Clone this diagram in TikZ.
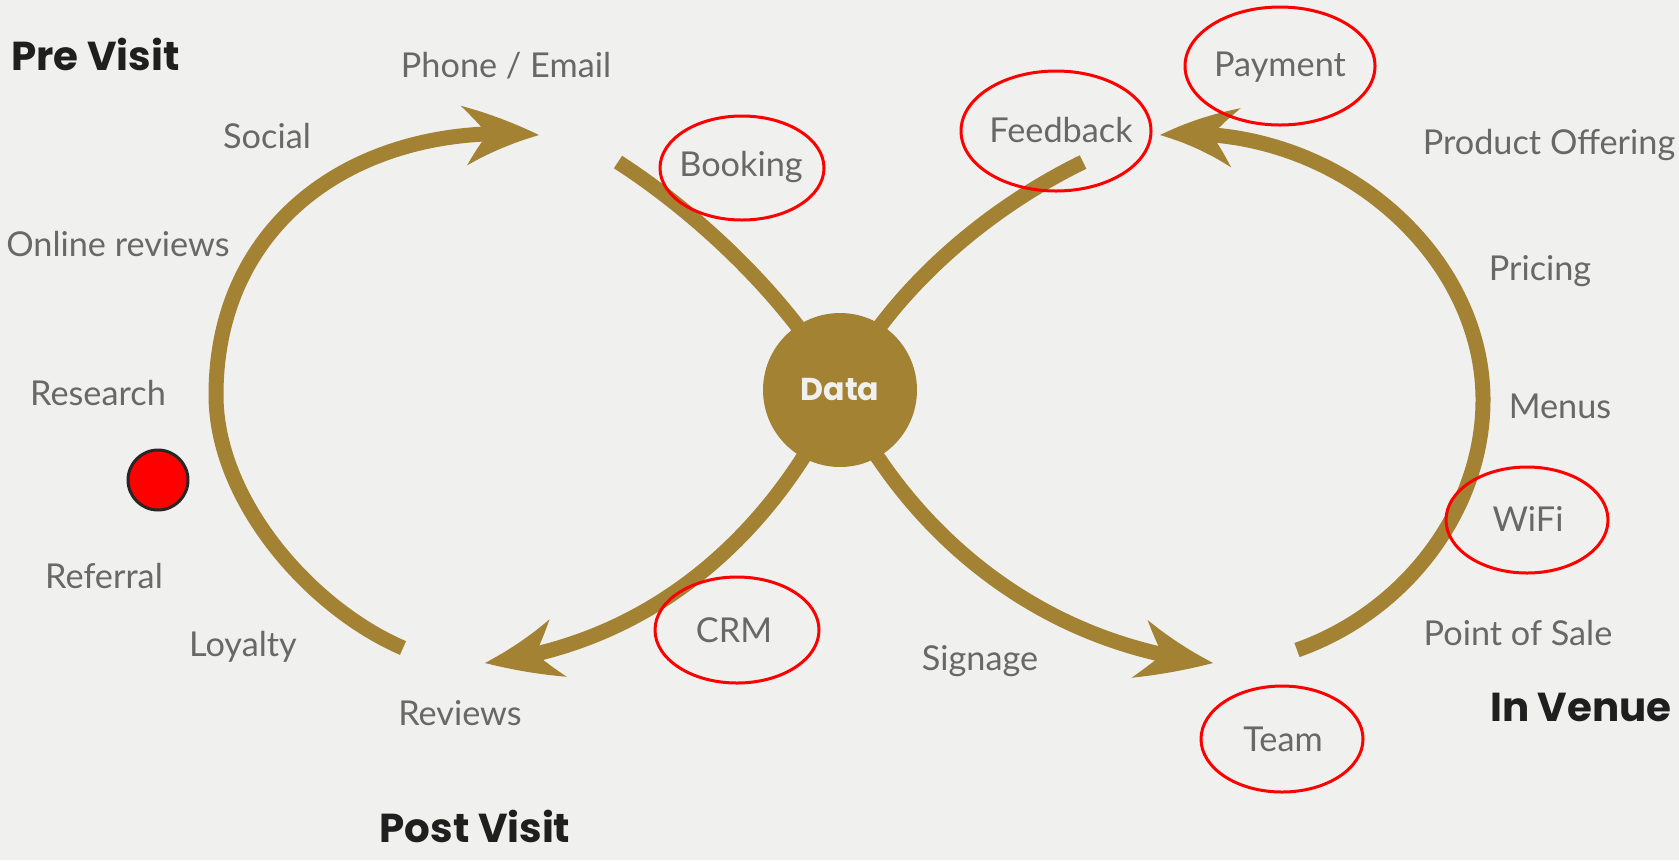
\documentclass[tikz,border=0pt]{standalone}
\usepackage{fontspec}
\setmainfont{Lato}
\newfontfamily\headfont{Poppins}
\usetikzlibrary{arrows.meta}
\usetikzlibrary{bending}
\usetikzlibrary{shapes}
\definecolor{highlight}{RGB}{163,130,51}
\definecolor{backdrop}{HTML}{F0F0EE}
\definecolor{textgray}{HTML}{686868}
\tikzset{
  flow/.style={line width=0.3cm, highlight},
  flowtip/.style={flow, -{Stealth[length=1.55cm, width=1.2cm, inset=0.5cm, line width=0pt, bend]}},
  tag/.style={text=textgray, inner sep=0pt, font=\fontsize{19.5}{23}\selectfont},
  heading/.style={text=black!88, inner sep=0pt, font=\headfont\bfseries\fontsize{23}{27}\selectfont},
  ring/.style={draw=red, line width=0.06cm},
}

\begin{document}
\begin{tikzpicture}[x=0.02cm, y=-0.02cm]
            \useasboundingbox (0,0) rectangle (1679,860);
            \fill[backdrop] (0,0) rectangle (1679,860);

            % ends of the figure eight
            \coordinate (hub) at (840,390);
            \coordinate (lstart) at (403,648);
            \coordinate (ltip) at (539,135);
            \coordinate (rstart) at (1297,650);
            \coordinate (rtip) at (1160,135);
            \coordinate (ulend) at (618,162);
            \coordinate (urend) at (1083,162);
            \coordinate (lltip) at (485,663);
            \coordinate (lrtip) at (1213,663);

            % outer loops
            \draw[flowtip] (lstart) .. controls (310,608) and (216,500) .. (216,395)
                                    .. controls (216,220) and (360,120) .. (ltip);
            \draw[flowtip] (rstart) .. controls (1405,612) and (1483,510) .. (1483,400)
                                    .. controls (1483,250) and (1330,120) .. (rtip);

            % strands through the middle
            \draw[flow] (hub) .. controls (790,300) and (700,215) .. (ulend);
            \draw[flow] (hub) .. controls (885,300) and (975,215) .. (urend);
            \draw[flowtip] (hub) .. controls (790,500) and (680,640) .. (lltip);
            \draw[flowtip] (hub) .. controls (890,500) and (1010,640) .. (lrtip);

            \node[circle, fill=highlight, minimum size=3.08cm, text=backdrop,
                  font=\headfont\bfseries\fontsize{18}{22}\selectfont] (data) at (hub) {Data};

            % stages
            \node[heading, anchor=west] (previsit) at (11,54) {Pre Visit};
            \node[heading] (postvisit) at (475,826) {Post Visit};
            \node[heading, anchor=east] (invenue) at (1672,707) {In Venue};

            % touch points
            \node[tag] (phone) at (506,66) {Phone / Email};
            \node[tag] (social) at (267,136) {Social};
            \node[tag] (online) at (118,244) {Online reviews};
            \node[tag] (research) at (98,393) {Research};
            \node[tag] (referral) at (104,576) {Referral};
            \node[tag] (loyalty) at (243,647) {Loyalty};
            \node[tag] (reviews) at (460,713) {Reviews};
            \node[tag] (booking) at (741,167) {Booking};
            \node[tag] (crm) at (734,630) {CRM};
            \node[tag] (signage) at (980,661) {Signage};
            \node[tag] (feedback) at (1061,130) {Feedback};
            \node[tag] (payment) at (1280,67) {Payment};
            \node[tag] (product) at (1549,145) {Product Offering};
            \node[tag] (pricing) at (1540,271) {Pricing};
            \node[tag] (menus) at (1560,406) {Menus};
            \node[tag] (wifi) at (1528,519) {WiFi};
            \node[tag] (pos) at (1518,633) {Point of Sale};
            \node[tag] (team) at (1283,739) {Team};

            \node[circle, fill=red, draw=black!85, line width=0.06cm, minimum size=1.2cm] (dot) at (158,480) {};

            % marked touch points
            \draw[ring] (742,168) ellipse [x radius=82, y radius=52];
            \draw[ring] (1056,131) ellipse [x radius=95, y radius=60];
            \draw[ring] (1280,66) ellipse [x radius=95, y radius=59];
            \draw[ring] (1527,520) ellipse [x radius=81, y radius=53];
            \draw[ring] (1282,739) ellipse [x radius=81, y radius=53];
            \draw[ring] (737,630) ellipse [x radius=82, y radius=53];
        \end{tikzpicture}
\end{document}
